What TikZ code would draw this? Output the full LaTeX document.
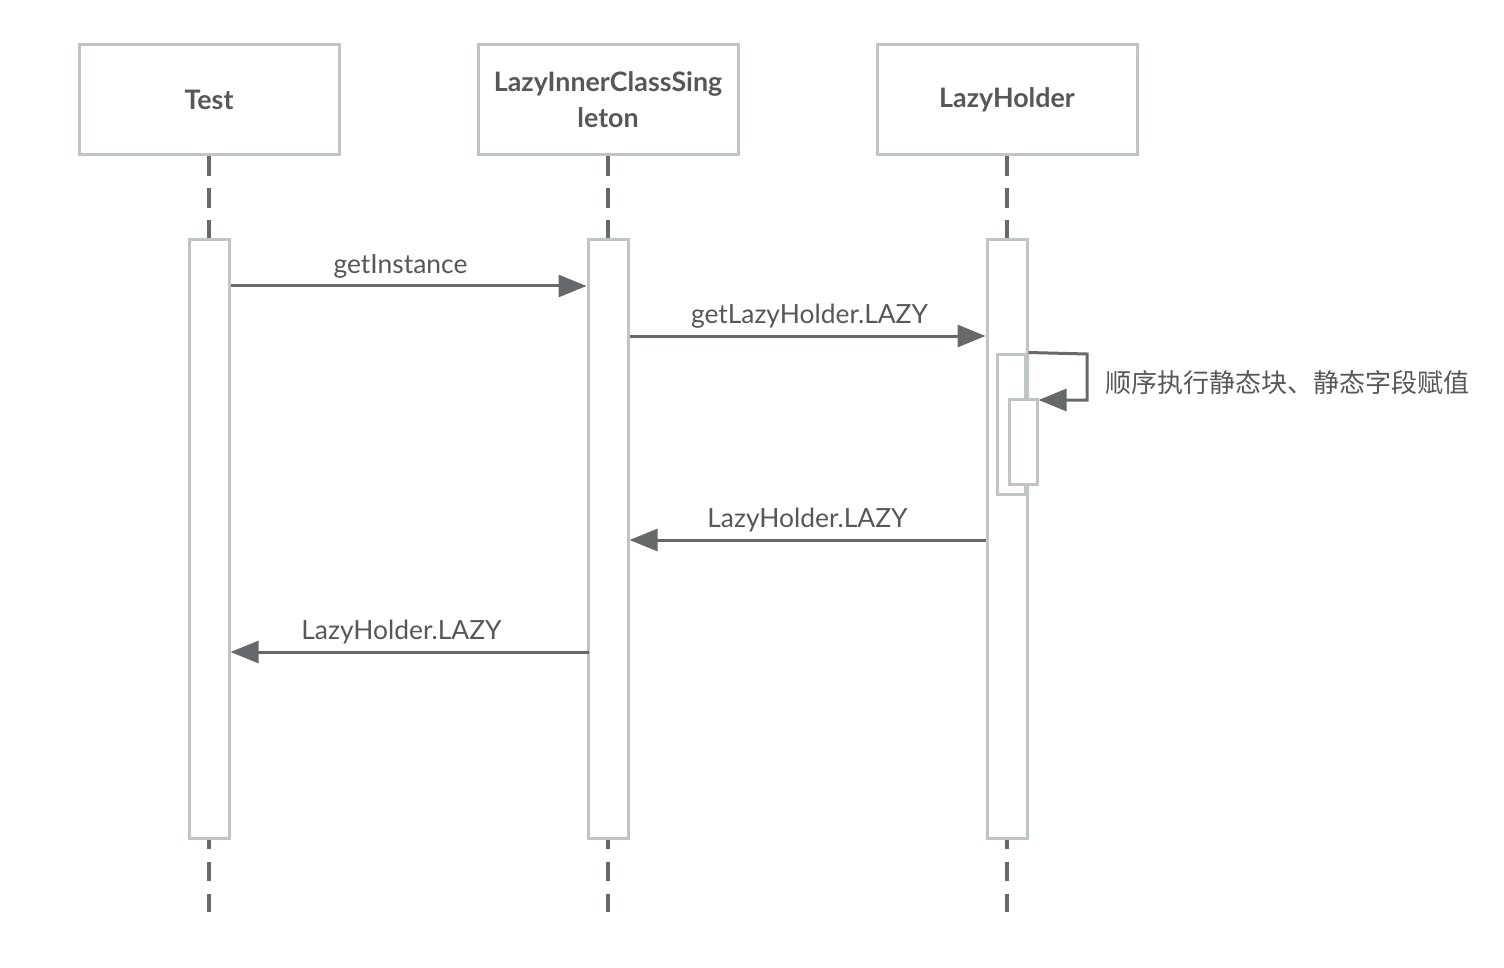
\documentclass[tikz,border=0pt]{standalone}
\usepackage{fontspec}
\setmainfont{Lato}
\newfontfamily\cjk{Noto Sans CJK SC}
\usetikzlibrary{arrows.meta}
\definecolor{boxgray}{HTML}{BFC4C5}
\definecolor{dark}{HTML}{65696A}
\definecolor{txt}{HTML}{555758}
\tikzset{
  head/.style={draw=boxgray, line width=1.5pt, fill=white, minimum width=130pt, minimum height=55pt, inner sep=0pt, text=txt, font=\bfseries\fontsize{13.4}{18}\selectfont, align=center},
  actbar/.style={draw=boxgray, line width=1.5pt, fill=white, minimum width=20pt, minimum height=299pt, inner sep=0pt},
  nestbar/.style={draw=boxgray, line width=1.5pt, fill=white, minimum width=14pt, inner sep=0pt},
  lifeline/.style={draw=dark, line width=1.8pt, dash pattern=on 9.75pt off 6.25pt},
  msg/.style={draw=dark, line width=1.5pt, -{Triangle[length=14pt,width=11pt]}},
  lbl/.style={text=txt, font=\fontsize{13.2}{15}\selectfont, inner sep=0pt}
}
\begin{document}
\begin{tikzpicture}[x=0.5pt,y=-0.5pt]
\useasboundingbox (0,0) rectangle (1504,968);
% headers
\node[head] (test) at (209,100) {Test};
\node[head] (lazy) at (608,100) {LazyInnerClassSing\\leton};
\node[head] (holder) at (1007,100) {LazyHolder};
% activation bars
\node[actbar] (testact) at (209,539) {};
\node[actbar] (lazyact) at (608,539) {};
\node[actbar] (holderact) at (1007,539) {};
% lifelines
\coordinate (testend) at (209,912);
\coordinate (lazyend) at (608,912);
\coordinate (holderend) at (1007,912);
\draw[lifeline] (test.south) -- (testact.north);
\draw[lifeline] (lazy.south) -- (lazyact.north);
\draw[lifeline] (holder.south) -- (holderact.north);
\draw[lifeline, dash phase=5pt] (testact.south) -- (testend);
\draw[lifeline, dash phase=5pt] (lazyact.south) -- (lazyend);
\draw[lifeline, dash phase=5pt] (holderact.south) -- (holderend);
% nested activations
\node[nestbar, minimum height=70pt] (outer) at (1011,424) {};
\node[nestbar, minimum height=42.5pt] (inner) at (1023,441.5) {};
% messages
\draw[msg] (testact.east |- 0,286) -- (lazyact.west |- 0,286) node[lbl, midway, above=3pt, xshift=-4pt] (m1) {getInstance};
\draw[msg] (lazyact.east |- 0,336) -- (holderact.west |- 0,336) node[lbl, midway, above=3pt, xshift=1pt] (m2) {getLazyHolder.LAZY};
\coordinate (selfa) at (1087,354);
\coordinate (selfb) at (1087,400);
\draw[draw=dark, line width=1.5pt, -{Triangle[length=14pt,width=11pt]}] (holderact.east |- outer.north) -- (selfa) -- (selfb) -- (inner.east |- selfb);
\node[text=txt, font=\cjk\fontsize{13}{16}\selectfont, anchor=west, inner sep=0pt] (selflbl) at (1105,383) {顺序执行静态块、静态字段赋值};
\draw[msg] (holderact.west |- 0,540) -- (lazyact.east |- 0,540) node[lbl, midway, above=3pt] (m3) {LazyHolder.LAZY};
\draw[msg] ([xshift=1pt]lazyact.west |- 0,652) -- (testact.east |- 0,652) node[lbl, midway, above=3pt, xshift=-4pt] (m4) {LazyHolder.LAZY};
\end{tikzpicture}
\end{document}
